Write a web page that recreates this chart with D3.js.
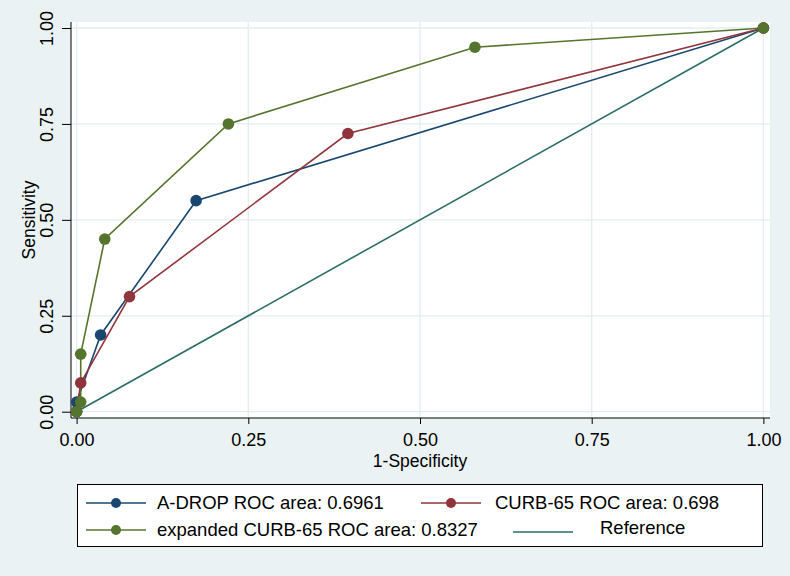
<!DOCTYPE html>
<html><head><meta charset="utf-8">
<script src="https://cdn.jsdelivr.net/npm/d3@7"></script>
<style>body{margin:0;background:#eaf2f3;} svg{display:block;font-family:"Liberation Sans",Arial,sans-serif;}</style>
</head><body>
<svg id="c" width="790" height="576"></svg>
<script>
const seriesNames = ["A-DROP ROC area: 0.6961","CURB-65 ROC area: 0.698","expanded CURB-65 ROC area: 0.8327","Reference"];
const adropX = [0, 0, 0.035, 0.174, 1];
const adropY = [0, 0.025, 0.2, 0.55, 1];
const curbX = [0, 0.006, 0.077, 0.395, 1];
const curbY = [0, 0.075, 0.3, 0.725, 1];
const expX = [0, 0.006, 0.006, 0.041, 0.221, 0.58, 1];
const expY = [0, 0.025, 0.15, 0.45, 0.75, 0.95, 1];
const refX = [0, 1];
const refY = [0, 1];
const tickVals = [0, 0.25, 0.5, 0.75, 1];
const tickLabels = ["0.00","0.25","0.50","0.75","1.00"];
const colors = ["#1a476f","#90353b","#55752f","#2d6d66"];

const svg = d3.select("#c");
svg.append("rect").attr("width",790).attr("height",576).attr("fill","#eaf2f3");
// plot region
svg.append("rect").attr("x",71).attr("y",22).attr("width",699).attr("height",396).attr("fill","#fff");
const x = d3.scaleLinear().domain([0,1]).range([76.6,763.4]);
const y = d3.scaleLinear().domain([0,1]).range([411.7,28]);
// grid
svg.append("g").selectAll("line").data(tickVals).join("line")
  .attr("x1",71).attr("x2",770).attr("y1",d=>y(d)).attr("y2",d=>y(d))
  .attr("stroke","#e3eef0").attr("stroke-width",1.3);
svg.append("g").selectAll("line").data(tickVals).join("line")
  .attr("y1",22).attr("y2",418).attr("x1",d=>x(d)).attr("x2",d=>x(d))
  .attr("stroke","#e3eef0").attr("stroke-width",1.3);
// axes
const xAxis = d3.axisBottom(x).tickValues(tickVals).tickFormat((d,i)=>tickLabels[i]).tickSize(6).tickPadding(3);
const gx = svg.append("g").attr("transform","translate(0,418)").call(xAxis);
gx.select(".domain").attr("d","M71,0H770").attr("stroke","#000");
gx.selectAll("text").attr("font-size",18).attr("fill","#000").attr("font-family","Liberation Sans, Arial, sans-serif").attr("dy",null).attr("y",28);
gx.selectAll(".tick line").attr("stroke","#000");
const yAxis = d3.axisLeft(y).tickValues(tickVals).tickFormat((d,i)=>tickLabels[i]).tickSize(9).tickPadding(4);
const gy = svg.append("g").attr("transform","translate(71,0)").call(yAxis);
gy.select(".domain").attr("d","M0,22V418").attr("stroke","#000");
gy.selectAll(".tick line").attr("stroke","#000");
gy.selectAll("text").attr("font-size",18).attr("fill","#000").attr("font-family","Liberation Sans, Arial, sans-serif")
  .attr("text-anchor","middle").attr("dy",null).attr("x",null)
  .attr("transform","translate(-18,0) rotate(-90)");
// titles
svg.append("text").attr("x",420).attr("y",467).attr("text-anchor","middle").attr("font-size",17.5).text("1-Specificity");
svg.append("text").attr("transform","translate(35,220) rotate(-90)").attr("text-anchor","middle").attr("font-size",17.5).text("Sensitivity");

const line = d3.line().x(d=>x(d[0])).y(d=>y(d[1]));
const series = [
  {xs:adropX, ys:adropY, c:colors[0]},
  {xs:curbX, ys:curbY, c:colors[1]},
  {xs:expX, ys:expY, c:colors[2]},
  {xs:refX, ys:refY, c:colors[3]}
];
[3,0,1,2].forEach(i=>{
  const s = series[i];
  const pts = s.xs.map((v,j)=>[v,s.ys[j]]);
  svg.append("path").attr("d",line(pts)).attr("fill","none").attr("stroke",s.c).attr("stroke-width",1.6);
});
[0,1,2].forEach(i=>{
  const s = series[i];
  const pts = s.xs.map((v,j)=>[v,s.ys[j]]);
  svg.append("g").selectAll("circle").data(pts).join("circle")
    .attr("cx",d=>x(d[0])).attr("cy",d=>y(d[1])).attr("r",5.8).attr("fill",s.c);
});

// legend
svg.append("rect").attr("x",77.5).attr("y",484.5).attr("width",685).attr("height",62).attr("fill","#fff").attr("stroke","#000").attr("stroke-width",1);
const leg = [
  {i:0, lx:86, ly:503, tx:157, ty:509},
  {i:1, lx:421, ly:503, tx:495, ty:509},
  {i:2, lx:86, ly:530, tx:157, ty:536},
  {i:3, lx:513, ly:532, tx:600, ty:534}
];
leg.forEach(l=>{
  const c = colors[l.i];
  svg.append("line").attr("x1",l.lx).attr("x2",l.lx+60).attr("y1",l.ly).attr("y2",l.ly).attr("stroke",c).attr("stroke-width",1.6);
  if(l.i<3) svg.append("circle").attr("cx",l.lx+30).attr("cy",l.ly).attr("r",5).attr("fill",c);
  svg.append("text").attr("x",l.tx).attr("y",l.ty).attr("font-size",18.5).attr("fill","#000").text(seriesNames[l.i]);
});
</script>
</body></html>
